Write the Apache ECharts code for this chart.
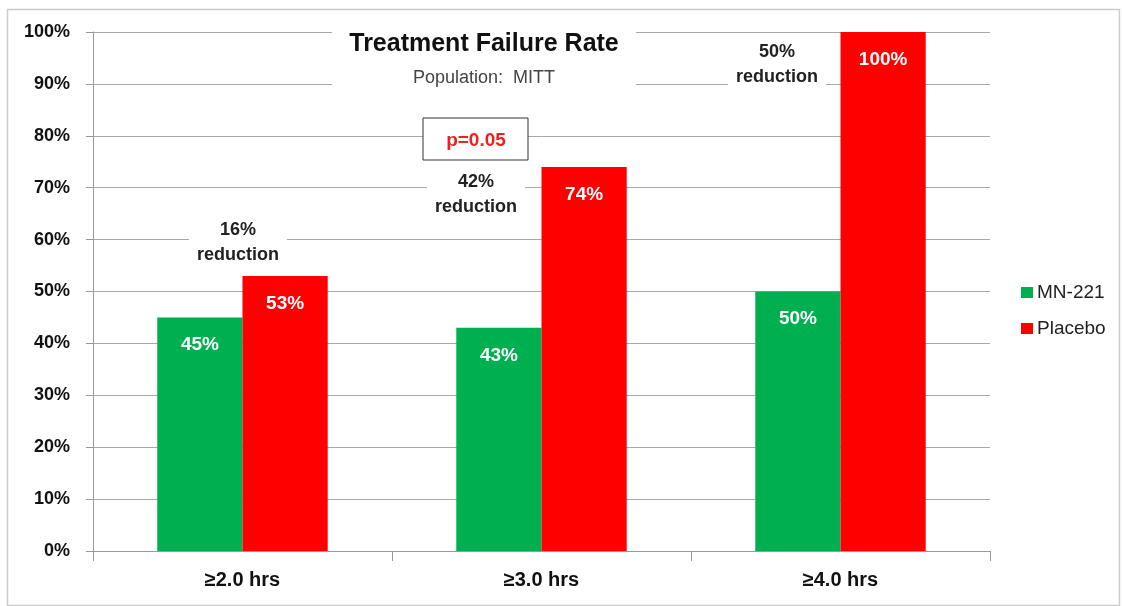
<!DOCTYPE html>
<html><head><meta charset="utf-8">
<script src="https://cdn.jsdelivr.net/npm/echarts@6/dist/echarts.min.js"></script>
<style>html,body{margin:0;padding:0;background:#fff}#c{width:1122px;height:606px}</style>
</head><body><div id="c"></div>
<script>
const categories = ['≥2.0 hrs', '≥3.0 hrs', '≥4.0 hrs'];
const mn221 = [45, 43, 50];
const placebo = [53, 74, 100];
const reductionLabels = ['16%\nreduction', '42%\nreduction', '50%\nreduction'];
const pValueText = 'p=0.05';
const yTicks = [0, 10, 20, 30, 40, 50, 60, 70, 80, 90, 100];

const chart = echarts.init(document.getElementById('c'));
const sans = "'Liberation Sans',Arial,sans-serif";

const labelStyle = {
  show: true, position: 'insideTop', distance: 18,
  color: '#fff', fontWeight: 'bold', fontSize: 19, fontFamily: sans,
  formatter: p => p.value + '%'
};
const noteStyle = { fontSize: 18, fontWeight: 'bold', fill: '#222', fontFamily: sans, align: 'center', verticalAlign: 'middle', lineHeight: 25, backgroundColor: '#fff', padding: [0, 8] };

chart.setOption({
  animation: false,
  backgroundColor: '#fff',
  grid: { left: 93, right: 132, top: 32, bottom: 55 },
  legend: {
    orient: 'vertical', left: 1016, top: 278,
    itemWidth: 12, itemHeight: 11, itemGap: 17,
    icon: 'rect',
    textStyle: { fontSize: 19, color: '#222', fontFamily: sans, padding: [0, 0, 0, -1] },
    data: ['MN-221', 'Placebo']
  },
  xAxis: {
    type: 'category', data: categories,
    axisLine: { lineStyle: { color: '#999' } },
    axisTick: { show: true, length: 10, lineStyle: { color: '#999' } },
    axisLabel: { color: '#111', fontWeight: 'bold', fontSize: 20, fontFamily: sans, margin: 19 }
  },
  yAxis: {
    type: 'value', min: 0, max: 100, interval: 10,
    axisLine: { show: true, lineStyle: { color: '#999' } },
    axisTick: { show: true, length: 7, lineStyle: { color: '#999' } },
    splitLine: { lineStyle: { color: '#a8a8a8' } },
    axisLabel: {
      color: '#111', fontWeight: 'bold', fontSize: 18, fontFamily: sans, margin: 23,
      formatter: v => yTicks.includes(v) ? v + '%' : ''
    }
  },
  series: [
    { name: 'MN-221', type: 'bar', data: mn221, barGap: '0%', barCategoryGap: '43%',
      itemStyle: { color: '#00B050' }, label: labelStyle },
    { name: 'Placebo', type: 'bar', data: placebo,
      itemStyle: { color: '#FF0000' }, label: labelStyle }
  ],
  graphic: [
    { type: 'rect', left: 5, top: 7, shape: { width: 1112, height: 596 }, style: { fill: 'none', stroke: '#ccc', lineWidth: 1.5 }, z: 100 },
    { type: 'rect', shape: { x: 332, y: 24, width: 304, height: 70 }, style: { fill: '#fff' }, z: 50 },
    { type: 'text', x: 484, y: 44, style: { text: 'Treatment Failure Rate', fontSize: 25, fontWeight: 'bold', fill: '#111', fontFamily: sans, align: 'center', verticalAlign: 'middle' }, z: 51 },
    { type: 'text', x: 484, y: 78, style: { text: 'Population:  MITT', fontSize: 18, fill: '#444', fontFamily: sans, align: 'center', verticalAlign: 'middle' }, z: 51 },
    { type: 'rect', shape: { x: 423, y: 118, width: 105, height: 42 }, style: { fill: '#fff', stroke: '#333', lineWidth: 1 }, z: 50 },
    { type: 'text', x: 476, y: 141, style: { text: pValueText, fontSize: 19, fontWeight: 'bold', fill: '#f02020', fontFamily: sans, align: 'center', verticalAlign: 'middle' }, z: 51 },
    { type: 'text', x: 238, y: 243, style: Object.assign({ text: reductionLabels[0] }, noteStyle), z: 51 },
    { type: 'text', x: 476, y: 195, style: Object.assign({ text: reductionLabels[1] }, noteStyle), z: 51 },
    { type: 'text', x: 777, y: 65, style: Object.assign({ text: reductionLabels[2] }, noteStyle), z: 51 }
  ]
});
</script>
</body></html>
